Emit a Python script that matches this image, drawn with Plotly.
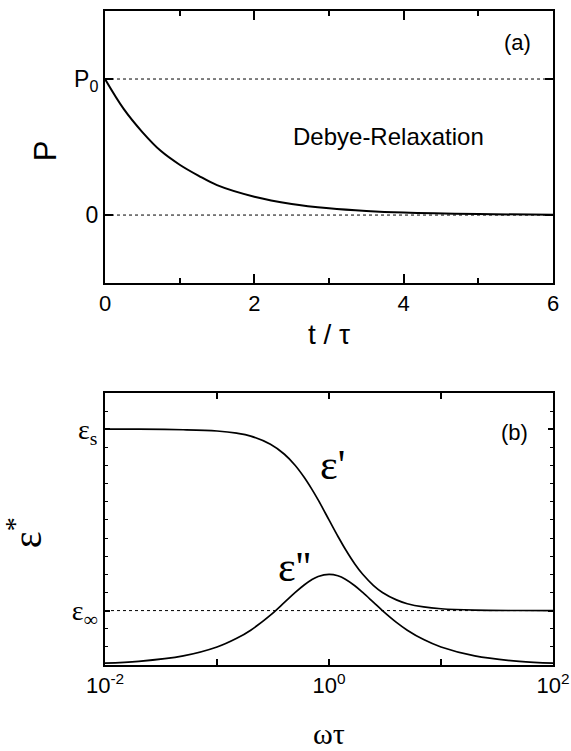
import plotly.graph_objects as go

# ---- data ----
t_vals = [0, 0.25, 0.5, 0.75, 1, 1.25, 1.5, 2, 2.5, 3, 3.5, 4, 5, 6]
p_vals = [1.0, 0.78, 0.61, 0.47, 0.37, 0.29, 0.22, 0.135, 0.082, 0.05, 0.03, 0.018, 0.007, 0.002]

w_vals = [0.01, 0.02, 0.05, 0.1, 0.15, 0.2, 0.3, 0.4, 0.5, 0.6, 0.7, 0.8, 1.0,
          1.2, 1.4, 1.7, 2.0, 2.5, 3.0, 4.0, 5.0, 7.0, 10, 20, 50, 100]
eps1_vals = [10.0, 10.0, 9.97, 9.90, 9.78, 9.62, 9.17, 8.62, 8.0, 7.35, 6.71, 6.10, 5.0,
             4.10, 3.38, 2.57, 2.0, 1.38, 1.0, 0.59, 0.38, 0.2, 0.1, 0.025, 0.004, 0.001]
eps2_vals = [-2.9, -2.8, -2.5, -2.01, -1.53, -1.08, -0.25, 0.45, 1.0, 1.41, 1.70, 1.88, 2.0,
             1.92, 1.73, 1.37, 1.0, 0.45, 0.0, -0.65, -1.08, -1.6, -2.01, -2.5, -2.8, -2.9]

p_ticks = [0, 1]
p_ticktext = ["0", "P<sub>0</sub>"]
t_ticks = [0, 2, 4, 6]
t_ticktext = ["0", "2", "4", "6"]
w_ticks = [0.01, 0.1, 1, 10, 100]
w_ticktext = ["10<sup>-2</sup>", "", "10<sup>0</sup>", "", "10<sup>2</sup>"]
e_ticks = [0, 10]
e_ticktext = ["ε<sub>∞</sub>", "ε<sub>s</sub>"]

SANS = "Liberation Sans, Arial, sans-serif"
SERIF = "Liberation Serif, Times New Roman, serif"

fig = go.Figure()

# top panel
fig.add_trace(go.Scatter(x=[t_vals[0], t_vals[-1]], y=[1, 1], mode="lines",
                         line=dict(color="black", width=1, dash="dot"), xaxis="x", yaxis="y"))
fig.add_trace(go.Scatter(x=[t_vals[0], t_vals[-1]], y=[0, 0], mode="lines",
                         line=dict(color="black", width=1, dash="dot"), xaxis="x", yaxis="y"))
fig.add_trace(go.Scatter(x=t_vals, y=p_vals, mode="lines", line_shape="spline",
                         line=dict(color="black", width=2), xaxis="x", yaxis="y"))

# bottom panel
fig.add_trace(go.Scatter(x=[w_vals[0], w_vals[-1]], y=[0, 0], mode="lines",
                         line=dict(color="black", width=1, dash="dot"), xaxis="x2", yaxis="y2"))
fig.add_trace(go.Scatter(x=w_vals, y=eps1_vals, mode="lines", line_shape="spline",
                         line=dict(color="black", width=1.7), xaxis="x2", yaxis="y2"))
fig.add_trace(go.Scatter(x=w_vals, y=eps2_vals, mode="lines", line_shape="spline",
                         line=dict(color="black", width=1.7), xaxis="x2", yaxis="y2"))

axis_common = dict(showline=True, linecolor="black", linewidth=2, mirror="ticks",
                   ticks="inside", tickcolor="black", showgrid=False, zeroline=False,
                   automargin=False)

fig.update_layout(
    width=571, height=751, showlegend=False,
    paper_bgcolor="white", plot_bgcolor="white",
    margin=dict(l=105, r=18, t=11, b=86),
    xaxis=dict(domain=[0, 1], anchor="y", range=[0, 6], tickvals=t_ticks, ticktext=t_ticktext,
               ticklen=9, tickwidth=1.5, tickfont=dict(family=SANS, size=22, color="black"),
               minor=dict(dtick=1, tick0=0, ticks="inside", ticklen=5, tickcolor="black",
                          tickwidth=1.5),
               **axis_common),
    yaxis=dict(domain=[0.584, 1], anchor="x", range=[-0.5, 1.5], tickvals=p_ticks,
               ticktext=p_ticktext, ticklen=8, tickwidth=1.5,
               tickfont=dict(family=SANS, size=23, color="black"), **axis_common),
    xaxis2=dict(domain=[0, 1], anchor="y2", type="log", range=[-2, 2], tickvals=w_ticks,
                ticktext=w_ticktext, ticklen=6, tickwidth=1.5,
                tickfont=dict(family=SANS, size=22, color="black"), **axis_common),
    yaxis2=dict(domain=[0, 0.416], anchor="x2", range=[-3, 12], tickvals=e_ticks,
                ticktext=e_ticktext, ticklen=5, tickwidth=1.5,
                minor=dict(dtick=1, ticks="inside", ticklen=3, tickcolor="black", tickwidth=1),
                tickfont=dict(family=SERIF, size=28, color="black"), **axis_common),
)

def note(x, y, xref, yref, text, family, size, angle=0):
    return dict(x=x, y=y, xref=xref, yref=yref, text=text, showarrow=False,
                xanchor="center", yanchor="middle", textangle=angle,
                font=dict(family=family, size=size, color="black"))

ann = [
    note(5.52, 1.27, "x", "y", "(a)", SANS, 22),
    note(3.8, 0.58, "x", "y", "Debye-Relaxation", SANS, 24),
    note(1.66, 9.8, "x2", "y2", "(b)", SANS, 22),
    note(0.027, 8.0, "x2", "y2", "ε'", SERIF, 42),
    note(-0.304, 2.4, "x2", "y2", "ε''", SERIF, 42),
    # axis titles
    note(-0.134, 0.787, "paper", "paper", "P", SANS, 31, -90),
    note(0.5, 0.505, "paper", "paper", "t / τ", SANS, 28),
    note(-0.178, 0.202, "paper", "paper", "ε<sup>*</sup>", SERIF, 40, -90),
    note(0.5, -0.104, "paper", "paper", "ωτ", SERIF, 30),
]
fig.update_layout(annotations=ann)

fig.write_html("out.html", config={"displayModeBar": False},
               post_script="document.body.style.margin='0px';")
